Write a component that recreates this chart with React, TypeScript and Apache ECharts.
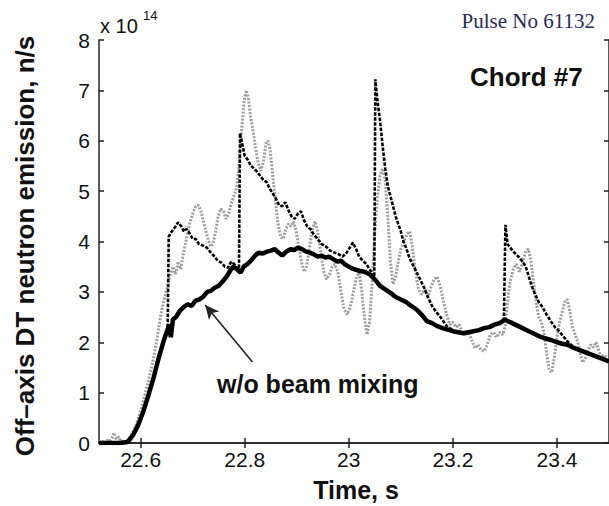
import React, { useEffect, useRef } from "react";
import * as echarts from "echarts";

// x: time (s), y: neutron emission (x 1e14 n/s)
const xTicks = [22.6, 22.8, 23, 23.2, 23.4];
const yTicks = [0, 1, 2, 3, 4, 5, 6, 7, 8];

const withoutMixing: [number, number][] = [
  [22.52, 0.0], [22.56, 0.0], [22.575, 0.02], [22.585, 0.15], [22.595, 0.35], [22.605, 0.62],
  [22.615, 0.95], [22.625, 1.3], [22.635, 1.7], [22.645, 2.05], [22.65, 2.2], [22.655, 2.35],
  [22.658, 2.1], [22.662, 2.45], [22.668, 2.5], [22.675, 2.62], [22.683, 2.7], [22.69, 2.75],
  [22.698, 2.72], [22.705, 2.82], [22.713, 2.85], [22.72, 2.9], [22.728, 3.0], [22.735, 3.02],
  [22.742, 3.08], [22.75, 3.12], [22.757, 3.2], [22.765, 3.3], [22.772, 3.42], [22.778, 3.5],
  [22.785, 3.45], [22.792, 3.38], [22.798, 3.5], [22.805, 3.55], [22.812, 3.62], [22.82, 3.72],
  [22.827, 3.78], [22.835, 3.76], [22.843, 3.8], [22.85, 3.82], [22.858, 3.85], [22.865, 3.78],
  [22.872, 3.72], [22.88, 3.8], [22.888, 3.85], [22.895, 3.83], [22.902, 3.88], [22.91, 3.85],
  [22.918, 3.8], [22.925, 3.78], [22.932, 3.75], [22.94, 3.7], [22.948, 3.72], [22.955, 3.68],
  [22.962, 3.7], [22.97, 3.65], [22.978, 3.6], [22.985, 3.62], [22.992, 3.55], [23.0, 3.5],
  [23.01, 3.45], [23.02, 3.42], [23.03, 3.4], [23.04, 3.35], [23.05, 3.25], [23.06, 3.12],
  [23.07, 3.05], [23.08, 2.98], [23.09, 2.9], [23.1, 2.85], [23.11, 2.8], [23.12, 2.72],
  [23.13, 2.65], [23.14, 2.55], [23.15, 2.42], [23.16, 2.38], [23.17, 2.32], [23.18, 2.28],
  [23.19, 2.25], [23.2, 2.22], [23.21, 2.2], [23.22, 2.18], [23.23, 2.2], [23.24, 2.22],
  [23.25, 2.24], [23.26, 2.28], [23.27, 2.3], [23.28, 2.35], [23.29, 2.38], [23.3, 2.45],
  [23.305, 2.42], [23.31, 2.4], [23.32, 2.35], [23.33, 2.3], [23.34, 2.25], [23.35, 2.2],
  [23.36, 2.15], [23.37, 2.1], [23.38, 2.07], [23.39, 2.04], [23.4, 2.0], [23.41, 1.97],
  [23.42, 1.95], [23.43, 1.9], [23.44, 1.86], [23.45, 1.82], [23.46, 1.78], [23.47, 1.74],
  [23.48, 1.7], [23.49, 1.66], [23.5, 1.62],
];

const withMixingA: [number, number][] = [
  [22.652, 2.3], [22.654, 4.1], [22.66, 4.2], [22.667, 4.3], [22.672, 4.38], [22.678, 4.3],
  [22.683, 4.2], [22.688, 4.25], [22.695, 4.15], [22.7, 4.05], [22.706, 4.05], [22.712, 3.95],
  [22.72, 3.92], [22.727, 3.88], [22.735, 3.78], [22.742, 3.7], [22.748, 3.62], [22.755, 3.58],
  [22.762, 3.5], [22.768, 3.48], [22.774, 3.6], [22.78, 3.55], [22.786, 3.45], [22.789, 3.5],
  [22.791, 6.15], [22.796, 5.9], [22.8, 5.7], [22.806, 5.62], [22.812, 5.5], [22.818, 5.45],
  [22.824, 5.38], [22.83, 5.3], [22.836, 5.22], [22.842, 5.18], [22.848, 5.05], [22.854, 4.95],
  [22.86, 4.85], [22.866, 4.72], [22.872, 4.7], [22.878, 4.78], [22.884, 4.62], [22.89, 4.5],
  [22.896, 4.45], [22.902, 4.55], [22.908, 4.6], [22.914, 4.42], [22.92, 4.3], [22.926, 4.25],
  [22.932, 4.15], [22.94, 4.05], [22.948, 3.95], [22.956, 3.9], [22.964, 3.82], [22.972, 3.78],
  [22.98, 3.75], [22.988, 3.7], [22.996, 3.78], [23.002, 3.88], [23.008, 3.98], [23.014, 3.85],
  [23.02, 3.7], [23.027, 3.62], [23.034, 3.55], [23.04, 3.45], [23.046, 3.35], [23.049, 3.3],
  [23.051, 7.22], [23.055, 6.8], [23.06, 6.4], [23.065, 5.9], [23.07, 5.45], [23.075, 5.1],
  [23.08, 4.9], [23.085, 4.7], [23.09, 4.5], [23.095, 4.35], [23.1, 4.2], [23.105, 4.0],
  [23.11, 3.88], [23.115, 3.72], [23.12, 3.6], [23.125, 3.5], [23.13, 3.4], [23.137, 3.25],
  [23.145, 3.08], [23.152, 2.9], [23.16, 2.72], [23.168, 2.6], [23.176, 2.5], [23.184, 2.38],
  [23.19, 2.3], [23.2, 2.25],
];

const withMixingB: [number, number][] = [
  [23.298, 2.42], [23.301, 4.33], [23.305, 3.95], [23.31, 3.88], [23.318, 3.78], [23.326, 3.7],
  [23.334, 3.6], [23.34, 3.5], [23.346, 3.3], [23.352, 3.1], [23.358, 2.95], [23.365, 2.8],
  [23.372, 2.7], [23.38, 2.55], [23.388, 2.42], [23.396, 2.3], [23.404, 2.22], [23.412, 2.12],
  [23.42, 2.02], [23.43, 1.92],
];

const measured: [number, number][] = [
  [22.52, 0.02], [22.525, 0.05], [22.53, 0.0], [22.535, 0.06], [22.54, 0.03], [22.545, 0.1],
  [22.549, 0.2], [22.553, 0.08], [22.558, 0.12], [22.562, 0.03], [22.567, 0.05], [22.572, 0.02],
  [22.578, 0.08], [22.584, 0.2], [22.59, 0.32], [22.596, 0.5], [22.602, 0.72], [22.608, 0.95],
  [22.614, 1.2], [22.62, 1.45], [22.626, 1.75], [22.632, 2.1], [22.638, 2.5], [22.644, 2.8],
  [22.65, 3.05], [22.656, 3.3], [22.662, 3.5], [22.667, 3.35], [22.672, 3.6], [22.677, 3.45],
  [22.682, 3.75], [22.688, 4.05], [22.694, 4.35], [22.7, 4.55], [22.706, 4.7], [22.711, 4.72],
  [22.716, 4.6], [22.722, 4.35], [22.728, 4.1], [22.734, 3.9], [22.739, 3.95], [22.744, 4.2],
  [22.749, 4.5], [22.754, 4.65], [22.759, 4.6], [22.764, 4.45], [22.769, 4.55], [22.774, 4.75],
  [22.779, 4.9], [22.784, 5.05], [22.789, 5.5], [22.794, 6.2], [22.799, 6.8], [22.803, 7.0],
  [22.807, 6.85], [22.811, 6.5], [22.816, 6.2], [22.821, 5.85], [22.826, 5.55], [22.831, 5.4],
  [22.836, 5.6], [22.841, 5.95], [22.845, 6.0], [22.849, 5.8], [22.854, 5.3], [22.859, 4.8],
  [22.864, 4.35], [22.869, 4.1], [22.874, 4.05], [22.879, 4.25], [22.884, 4.35], [22.889, 4.3],
  [22.894, 4.4], [22.899, 4.2], [22.904, 3.9], [22.909, 3.6], [22.914, 3.4], [22.919, 3.5],
  [22.924, 3.85], [22.929, 4.2], [22.935, 4.4], [22.94, 4.2], [22.946, 3.8], [22.952, 3.4],
  [22.957, 3.25], [22.963, 3.35], [22.968, 3.5], [22.973, 3.55], [22.979, 3.4], [22.985, 3.0],
  [22.991, 2.65], [22.997, 2.55], [23.003, 2.7], [23.009, 3.0], [23.015, 3.3], [23.02, 3.38],
  [23.025, 3.0], [23.03, 2.5], [23.035, 2.15], [23.04, 2.4], [23.045, 3.2], [23.05, 4.2],
  [23.055, 4.9], [23.06, 5.3], [23.065, 5.45], [23.07, 5.2], [23.075, 4.5], [23.08, 3.6],
  [23.085, 3.15], [23.09, 3.3], [23.095, 3.6], [23.1, 3.85], [23.106, 4.0], [23.112, 4.15],
  [23.117, 4.2], [23.122, 3.9], [23.128, 3.4], [23.134, 3.05], [23.14, 2.95], [23.146, 3.05],
  [23.152, 2.9], [23.158, 3.1], [23.164, 3.25], [23.17, 3.3], [23.176, 3.1], [23.182, 2.8],
  [23.188, 2.55], [23.194, 2.35], [23.2, 2.4], [23.206, 2.3], [23.212, 2.35], [23.218, 2.2],
  [23.224, 2.15], [23.23, 2.2], [23.236, 2.05], [23.242, 1.88], [23.248, 1.95], [23.254, 1.85],
  [23.26, 1.82], [23.266, 1.95], [23.272, 2.15], [23.278, 2.2], [23.284, 2.1], [23.29, 2.2],
  [23.296, 2.15], [23.3, 2.3], [23.305, 2.8], [23.31, 3.2], [23.316, 3.45], [23.322, 3.55],
  [23.328, 3.4], [23.334, 3.6], [23.34, 3.8], [23.345, 3.85], [23.35, 3.6], [23.355, 3.2],
  [23.36, 2.8], [23.365, 2.5], [23.37, 2.4], [23.375, 2.2], [23.38, 1.8], [23.385, 1.45],
  [23.39, 1.4], [23.395, 1.7], [23.4, 2.1], [23.405, 2.4], [23.41, 2.6], [23.415, 2.8],
  [23.42, 2.85], [23.425, 2.6], [23.43, 2.3], [23.435, 2.15], [23.44, 2.0], [23.445, 1.75],
  [23.45, 1.6], [23.455, 1.7], [23.46, 1.85], [23.465, 1.95], [23.47, 1.9], [23.475, 2.0],
  [23.48, 1.85], [23.485, 1.7], [23.49, 1.75], [23.495, 1.7],
];

// arrow annotation: tail -> head (data coords)
const arrowTail: [number, number] = [22.815, 1.61];
const arrowHead: [number, number] = [22.724, 2.74];

const SANS = '"Liberation Sans", Arial, Helvetica, sans-serif';
const SERIF = '"Liberation Serif", "Times New Roman", serif';

export default function App() {
  const ref = useRef<HTMLDivElement>(null);
  useEffect(() => {
    if (!ref.current) return;
    const chart = echarts.init(ref.current, null, { renderer: "svg" });
    const axisLine = { show: true, lineStyle: { color: "#222", width: 1.5 } };
    chart.setOption({
      animation: false,
      backgroundColor: "#ffffff",
      grid: { left: 99, right: -3, top: 40, bottom: 63 },
      xAxis: [
        {
          type: "value", min: 22.52, max: 23.5, position: "bottom",
          axisLine, splitLine: { show: false },
          axisTick: { show: true, inside: true, length: 5, customValues: xTicks, lineStyle: { color: "#222", width: 1.5 } },
          axisLabel: {
            show: true, customValues: xTicks, margin: 6, color: "#111",
            fontFamily: SANS, fontSize: 21,
            formatter: (v: number) => String(Math.round(v * 10) / 10),
          },
        },
        {
          type: "value", min: 22.52, max: 23.5, position: "top",
          axisLine, splitLine: { show: false },
          axisTick: { show: true, inside: true, length: 5, customValues: xTicks, lineStyle: { color: "#222", width: 1.5 } },
          axisLabel: { show: false },
        },
      ],
      yAxis: [
        {
          type: "value", min: 0, max: 8, interval: 1, position: "left",
          axisLine, splitLine: { show: false },
          axisTick: { show: true, inside: true, length: 5, lineStyle: { color: "#222", width: 1.5 } },
          axisLabel: {
            show: true, margin: 9, color: "#111", fontFamily: SANS, fontSize: 21,
            customValues: yTicks,
          },
        },
        {
          type: "value", min: 0, max: 8, interval: 1, position: "right",
          axisLine, splitLine: { show: false },
          axisTick: { show: true, inside: true, length: 5, lineStyle: { color: "#222", width: 1.5 } },
          axisLabel: { show: false },
        },
      ],
      series: [
        {
          name: "measured", type: "line", data: measured, showSymbol: false,
          lineStyle: { color: "#9e9e9e", width: 3, type: [2, 1.5] }, z: 2,
        },
        {
          name: "with beam mixing", type: "line", data: withMixingA, showSymbol: false,
          lineStyle: { color: "#000", width: 2.6, type: [3.5, 1.5] }, z: 3,
        },
        {
          name: "with beam mixing 2", type: "line", data: withMixingB, showSymbol: false,
          lineStyle: { color: "#000", width: 2.6, type: [3.5, 1.5] }, z: 3,
        },
        {
          name: "w/o beam mixing", type: "line", data: withoutMixing, showSymbol: false,
          lineStyle: { color: "#000", width: 4.5 }, z: 4,
          markLine: {
            silent: true, symbol: ["none", "arrow"], symbolSize: [10, 14],
            label: { show: false },
            lineStyle: { color: "#222", width: 1.6, type: "solid" },
            data: [[{ coord: arrowTail }, { coord: arrowHead }]],
          },
        },
      ],
      graphic: [
        {
          type: "text", x: 25, y: 246, rotation: Math.PI / 2,
          style: {
            text: "Off\u2013axis DT neutron emission, n/s", fill: "#111",
            font: `bold 26px ${SANS}`, align: "center", verticalAlign: "middle",
          },
        },
        {
          type: "text", x: 356, y: 490,
          style: { text: "Time, s", fill: "#111", font: `bold 25px ${SANS}`, align: "center", verticalAlign: "middle" },
        },
        {
          type: "text", x: 100, y: 26,
          style: { text: "x 10", fill: "#111", font: `20px ${SANS}`, align: "left", verticalAlign: "middle" },
        },
        {
          type: "text", x: 143, y: 15,
          style: { text: "14", fill: "#111", font: `13px ${SANS}`, align: "left", verticalAlign: "middle" },
        },
        {
          type: "text", x: 595, y: 21,
          style: { text: "Pulse No 61132", fill: "#2d2a5a", font: `21px ${SERIF}`, align: "right", verticalAlign: "middle" },
        },
        {
          type: "text", x: 470, y: 77,
          style: { text: "Chord #7", fill: "#111", font: `bold 26px ${SANS}`, align: "left", verticalAlign: "middle" },
        },
        {
          type: "text", x: 217, y: 384,
          style: { text: "w/o beam mixing", fill: "#111", font: `bold 25px ${SANS}`, align: "left", verticalAlign: "middle" },
        },
      ],
    });
    return () => chart.dispose();
  }, []);
  return (
    <div
      ref={ref}
      style={{ position: "absolute", left: 0, top: 0, width: 609, height: 506, background: "#fff" }}
    />
  );
}
